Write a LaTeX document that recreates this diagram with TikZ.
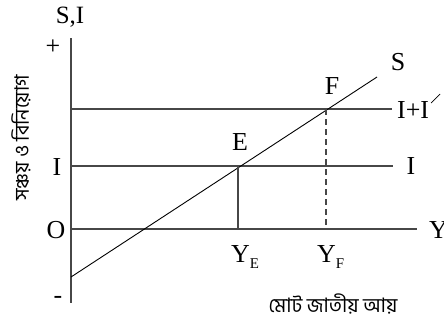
\documentclass[tikz,border=0pt]{standalone}
\usepackage{fontspec}
\setmainfont{Liberation Serif}
\newfontfamily\bnfont[Script=Bengali]{Hind Siliguri}
\begin{document}
\begin{tikzpicture}[x=1bp,y=-1bp,
  axisline/.style={draw=black!72,line width=1.3bp},
  sline/.style={draw=black,line width=0.9bp},
  lbl/.style={font=\fontsize{26}{28}\selectfont,inner sep=0pt,anchor=base},
  bn/.style={font=\bnfont\fontsize{20}{24}\selectfont,inner sep=0pt}]
\useasboundingbox (0,0) rectangle (444,324);
% coordinates
\coordinate (top) at (71,38);
\coordinate (bot) at (71,303);
\coordinate (o) at (71,229);
\coordinate (oend) at (417,229);
\coordinate (ia) at (71,166);
\coordinate (iend) at (393,166);
\coordinate (iia) at (71,109);
\coordinate (iiend) at (392,109);
\coordinate (s0) at (71,277);
\coordinate (s1) at (377,77);
\coordinate (E) at (238,166);
\coordinate (F) at (326,109);
\coordinate (YE) at (238,229);
\coordinate (YF) at (326,229);
% axes and lines
\draw[axisline] (top) -- (bot);
\draw[axisline] (o) -- (oend);
\draw[axisline] (ia) -- (iend);
\draw[axisline] (iia) -- (iiend);
\draw[sline] (s0) -- (s1);
\draw[axisline] (E) -- (YE);
\draw[axisline,dash pattern=on 6bp off 4bp] (F) -- (YF);
% labels
\node[lbl,font=\fontsize{25}{27}\selectfont] (lSI) at (70,23) {S,I};
\node[lbl] (lplus) at (53,54) {+};
\node[lbl] (lI) at (57,175) {I};
\node[lbl] (lO) at (56,238) {O};
\node[lbl] (lminus) at (58,303) {-};
\node[lbl] (lS) at (398,70) {S};
\node[lbl] (lF) at (332,94) {F};
\node[lbl] (lE) at (240,150) {E};
\node[lbl,anchor=base west] (lII) at (397,118) {I+I};
\draw[line width=0.7bp] (431,103) -- (440,94);
\node[lbl] (lI2) at (411,174) {I};
\node[lbl,anchor=base west] (lY) at (429,238) {Y};
\node[lbl,anchor=base west] (lYE) at (231,262) {Y\raisebox{-6bp}{\fontsize{15}{16}\selectfont E}};
\node[lbl,anchor=base west] (lYF) at (317,262) {Y\raisebox{-6bp}{\fontsize{15}{16}\selectfont F}};
\node[bn] (lbot) at (333,304) {মোট জাতীয় আয়};
\node[bn,rotate=90] (lvert) at (21,138) {সঞ্চয় ও বিনিয়োগ};
\end{tikzpicture}
\end{document}
